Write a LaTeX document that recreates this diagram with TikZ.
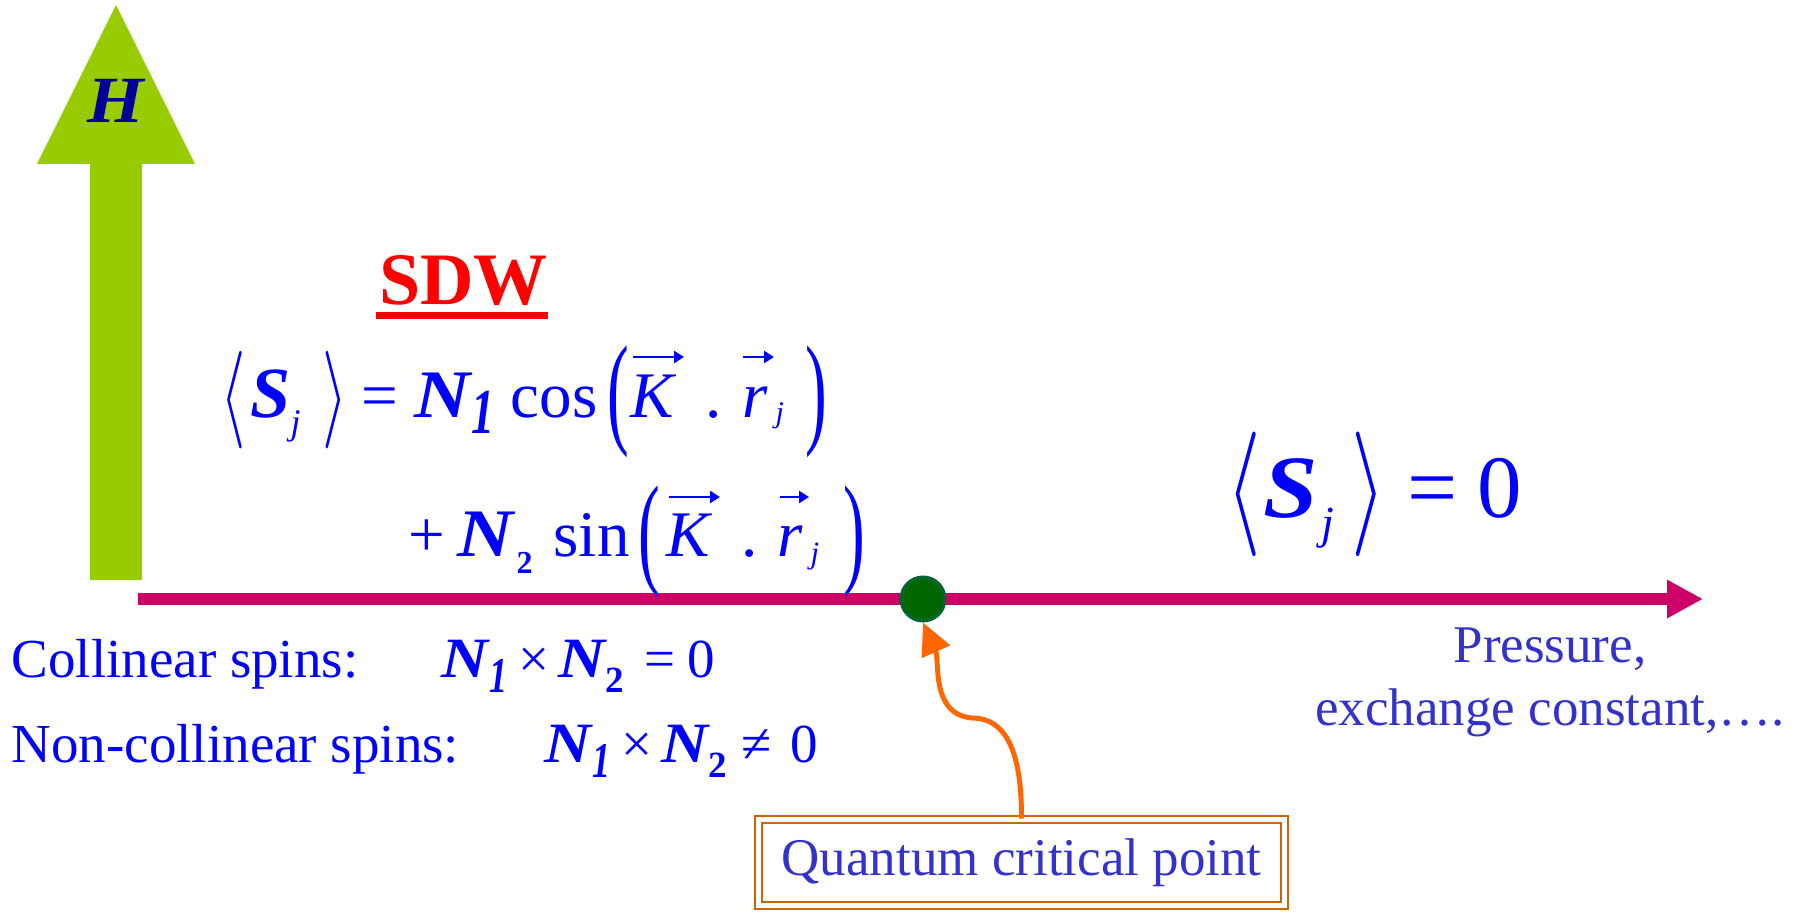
\RequirePackage{fix-cm}
\documentclass[tikz,border=0pt]{standalone}
\usepackage{graphicx}
\usepackage{fontspec}
\setmainfont{Liberation Serif}
\usepackage{tikz}
\usetikzlibrary{positioning,arrows.meta}

\definecolor{fieldgreen}{RGB}{153,204,0}
\definecolor{axismag}{RGB}{204,0,102}
\definecolor{qcpgreen}{RGB}{0,102,0}
\definecolor{qcpedge}{RGB}{0,102,51}
\definecolor{arrorange}{RGB}{255,102,0}
\definecolor{boxorange}{RGB}{204,102,0}
\definecolor{eqblue}{RGB}{0,0,255}
\definecolor{lblblue}{RGB}{51,51,204}
\definecolor{hnavy}{RGB}{0,0,153}
\definecolor{sdwred}{RGB}{255,0,0}

% place #2 with its left edge at x=#1 (pt) of the line
\newcommand{\putat}[2]{\makebox[0pt][l]{\hspace*{#1pt}#2}}
\newcommand{\bfit}[1]{\textbf{\textit{#1}}}
\newcommand{\wideN}[1]{{\fontsize{#1}{#1}\selectfont\scalebox{1.14}[1]{\bfit{N}}}}
\newcommand{\thinone}{\scalebox{0.72}[1]{\bfit{1}}}
\newcommand{\lowered}[3]{\raisebox{-#1pt}{\fontsize{#2}{#2}\selectfont #3}}
\newcommand{\tallbrk}[3]{\raisebox{-#1pt}{\scalebox{1}[#2]{$#3$}}}
\newcommand{\tallpar}[2]{\raisebox{-#1pt}{\scalebox{1}[1.9]{#2}}}

\tikzset{
  eq/.style={text=eqblue, inner sep=0pt, anchor=base west, font=\fontsize{65}{78}\selectfont},
  bigeq/.style={eq, font=\fontsize{89}{100}\selectfont},
  spins/.style={eq, font=\fontsize{55}{66}\selectfont},
  lbl/.style={text=lblblue, inner sep=0pt, font=\fontsize{53}{64}\selectfont},
  vecarrow/.style={draw=eqblue, line width=2.6pt, -{Triangle[length=10pt,width=12pt]}},
  axis/.style={draw=axismag, line width=12pt, -{Triangle[length=36pt,width=36pt]}},
  qcparrow/.style={draw=arrorange, line width=5pt, -{Triangle[length=32pt,width=30pt]}},
}

\begin{document}
\begin{tikzpicture}[x=1pt,y=-1pt]
  \useasboundingbox (0,0) rectangle (1802,912);

  % field axis
  \fill[fieldgreen] (90,580) -- (90,164) -- (37,164) -- (116,5) -- (195,164) -- (142,164) -- (142,580) -- cycle;
  \node[text=hnavy, font=\fontsize{66}{78}\selectfont\bfseries\itshape, inner sep=0pt] (hlab) at (116,101) {\scalebox{1.1}[1]{H}};

  % pressure axis
  \coordinate (axstart) at (138,599);
  \coordinate (axend) at (1703,599);
  \draw[axis] (axstart) -- (axend);
  \node[circle, fill=qcpgreen, draw=qcpedge, line width=3pt, inner sep=0pt, minimum size=44pt] (qcp) at (923,599) {};

  % SDW phase
  \node[anchor=base west, inner sep=0pt, text=sdwred, font=\fontsize{74}{88}\selectfont\bfseries] (sdw) at (379,304) {SDW};
  \fill[sdwred] (376,312) rectangle (548,319);

  \node[eq] (eqcos) at (0,417) {%
    \putat{220}{\tallbrk{7}{1.5}{\langle}}%
    \putat{250}{\fontsize{72}{80}\selectfont\bfit{S}}%
    \putat{290}{\lowered{17}{36}{\textit{j}}}%
    \putat{322}{\tallbrk{7}{1.5}{\rangle}}%
    \putat{361}{=}%
    \putat{414}{\wideN{68}}%
    \putat{471}{\lowered{16}{64}{\thinone}}%
    \putat{510}{cos}%
    \putat{607}{\tallpar{14}{(}}%
    \putat{630}{\textit{K}}%
    \putat{705}{.}%
    \putat{742}{\textit{r}}%
    \putat{775}{\lowered{5}{30}{\textit{j}}}%
    \putat{805}{\tallpar{14}{)}}};
  \node[eq] (eqsin) at (0,556) {%
    \putat{408}{+}%
    \putat{457}{\wideN{68}}%
    \putat{516}{\lowered{17}{32}{\textbf{2}}}%
    \putat{553}{sin}%
    \putat{638}{\tallpar{15}{(}}%
    \putat{666}{\textit{K}}%
    \putat{741}{.}%
    \putat{777}{\textit{r}}%
    \putat{810}{\lowered{7}{31}{\textit{j}}}%
    \putat{843}{\tallpar{15}{)}}};
  % vector arrows over K and r_j
  \foreach \xa/\xb/\ya in {633/684/357, 743/774/357, 669/720/497, 780/809/497}
    \draw[vecarrow] (\xa,\ya) -- (\xb,\ya);

  % paramagnetic side
  \node[bigeq] (eqzero) at (0,517) {%
    \putat{1226}{\tallbrk{8}{1.4}{\langle}}%
    \putat{1263}{\scalebox{1.1}[1]{\bfit{S}}}%
    \putat{1321}{\lowered{21}{46}{\textit{j}}}%
    \putat{1351}{\tallbrk{8}{1.4}{\rangle}}%
    \putat{1407}{=}%
    \putat{1477}{0}};

  \node[lbl, anchor=base] (pres) at (1550,662) {Pressure,};
  \node[lbl, anchor=base] (exch) at (1550,725) {exchange constant,….};

  % spin arrangements
  \node[spins] (colin) at (0,677) {%
    \putat{11}{Collinear spins:}%
    \putat{441}{\wideN{57}}%
    \putat{489}{\lowered{15}{50}{\thinone}}%
    \putat{518}{×}%
    \putat{558}{\wideN{57}}%
    \putat{605}{\lowered{15}{37}{\textbf{2}}}%
    \putat{644}{=}%
    \putat{687}{0}};
  \node[spins] (noncolin) at (0,762) {%
    \putat{11}{Non-collinear spins:}%
    \putat{544}{\wideN{57}}%
    \putat{592}{\lowered{15}{50}{\thinone}}%
    \putat{621}{×}%
    \putat{661}{\wideN{57}}%
    \putat{708}{\lowered{15}{37}{\textbf{2}}}%
    \putat{741}{≠}%
    \putat{790}{0}};

  % quantum critical point
  \node[lbl, draw=boxorange, double, line width=2pt, double distance=5pt,
        minimum width=526pt, minimum height=86pt] (qcpbox) at (1021.5,862.5) {Quantum critical point};
  \coordinate (bend) at (972,718);
  \draw[qcparrow] (qcpbox.north) to[out=90,in=0] (bend) to[out=175,in=-66] (qcp.south);
\end{tikzpicture}
\end{document}
